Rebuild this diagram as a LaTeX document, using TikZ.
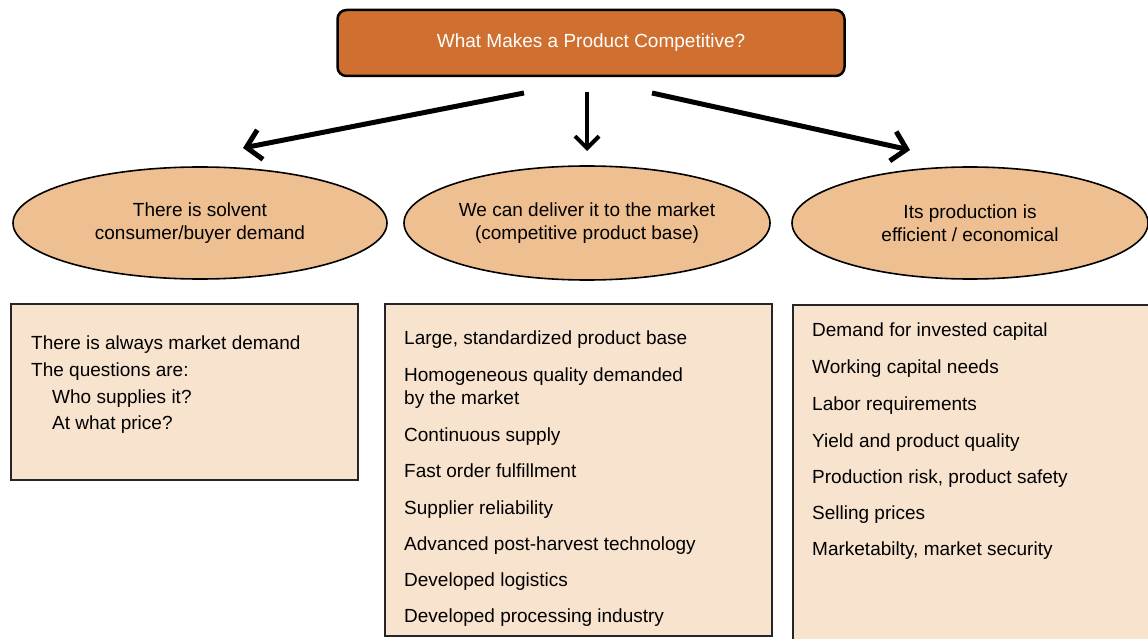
\documentclass[tikz,border=0pt]{standalone}
\usepackage{fontspec}
\setmainfont{Liberation Sans}
\usetikzlibrary{shapes.geometric,arrows.meta}
\definecolor{titleorange}{RGB}{207,112,48}
\definecolor{ellfill}{RGB}{238,191,144}
\definecolor{boxfill}{RGB}{248,227,206}
\begin{document}
\begin{tikzpicture}[x=1pt,y=-1pt,
 titlebox/.style={draw=black, line width=2.5pt, fill=titleorange, rounded corners=9pt, minimum width=507pt, minimum height=66pt, inner sep=0pt, text=white, font=\fontsize{19}{22}\selectfont},
 oval/.style={ellipse, draw=black, line width=1.6pt, fill=ellfill, inner sep=0pt, align=center, font=\fontsize{19}{23}\selectfont},
 listbox/.style={draw=black!85, line width=1.8pt, fill=boxfill, anchor=north west, inner sep=0pt},
 item/.style={anchor=base west, inner sep=0pt, font=\fontsize{19}{22}\selectfont},
 bigarrow/.style={line width=5pt, -{Straight Barb[length=14pt,width=30pt]}},
 midarrow/.style={line width=4pt, -{Straight Barb[length=12pt,width=24pt]}}
]
\useasboundingbox (0,0) rectangle (1148,639);
\fill[white] (0,0) rectangle (1148,639);

\node[titlebox] (title) at (591,43) {What Makes a Product Competitive?};

\node[oval, minimum width=374pt, minimum height=112pt] (e1) at (200,223) {There is solvent\\consumer/buyer demand};
\node[oval, minimum width=366pt, minimum height=114pt] (e2) at (587,223) {We can deliver it to the market\\(competitive product base)};
\node[oval, minimum width=356pt, minimum height=112pt] (e3) at (970,223) {Its production is\\efficient / economical};

\coordinate (a1s) at (524,93);
\coordinate (a1e) at (243,148);
\coordinate (a2s) at (587,92);
\coordinate (a2e) at (587,151);
\coordinate (a3s) at (652,93);
\coordinate (a3e) at (910,150);
\draw[bigarrow] (a1s) -- (a1e);
\draw[midarrow] (a2s) -- (a2e);
\draw[bigarrow] (a3s) -- (a3e);

\node[listbox, minimum width=347pt, minimum height=176pt] (b1) at (10,303) {};
\node[listbox, minimum width=387pt, minimum height=332pt] (b2) at (384,303) {};
\node[listbox, minimum width=370pt, minimum height=350pt] (b3) at (792,304) {};

\node[item] (l1) at (31,349) {There is always market demand};
\node[item] (l2) at (31,376) {The questions are:};
\node[item] (l3) at (52,403) {Who supplies it?};
\node[item] (l4) at (52,429) {At what price?};

\node[item] (m1) at (404,344) {Large, standardized product base};
\node[item] (m2) at (404,381) {Homogeneous quality demanded};
\node[item] (m2b) at (404,404) {by the market};
\node[item] (m3) at (404,441) {Continuous supply};
\node[item] (m4) at (404,477) {Fast order fulfillment};
\node[item] (m5) at (404,514) {Supplier reliability};
\node[item] (m6) at (404,550) {Advanced post-harvest technology};
\node[item] (m7) at (404,586) {Developed logistics};
\node[item] (m8) at (404,622) {Developed processing industry};

\node[item] (r1) at (812,336) {Demand for invested capital};
\node[item] (r2) at (812,373) {Working capital needs};
\node[item] (r3) at (812,410) {Labor requirements};
\node[item] (r4) at (812,447) {Yield and product quality};
\node[item] (r5) at (812,483) {Production risk, product safety};
\node[item] (r6) at (812,519) {Selling prices};
\node[item] (r7) at (812,555) {Marketabilty, market security};
\end{tikzpicture}
\end{document}
